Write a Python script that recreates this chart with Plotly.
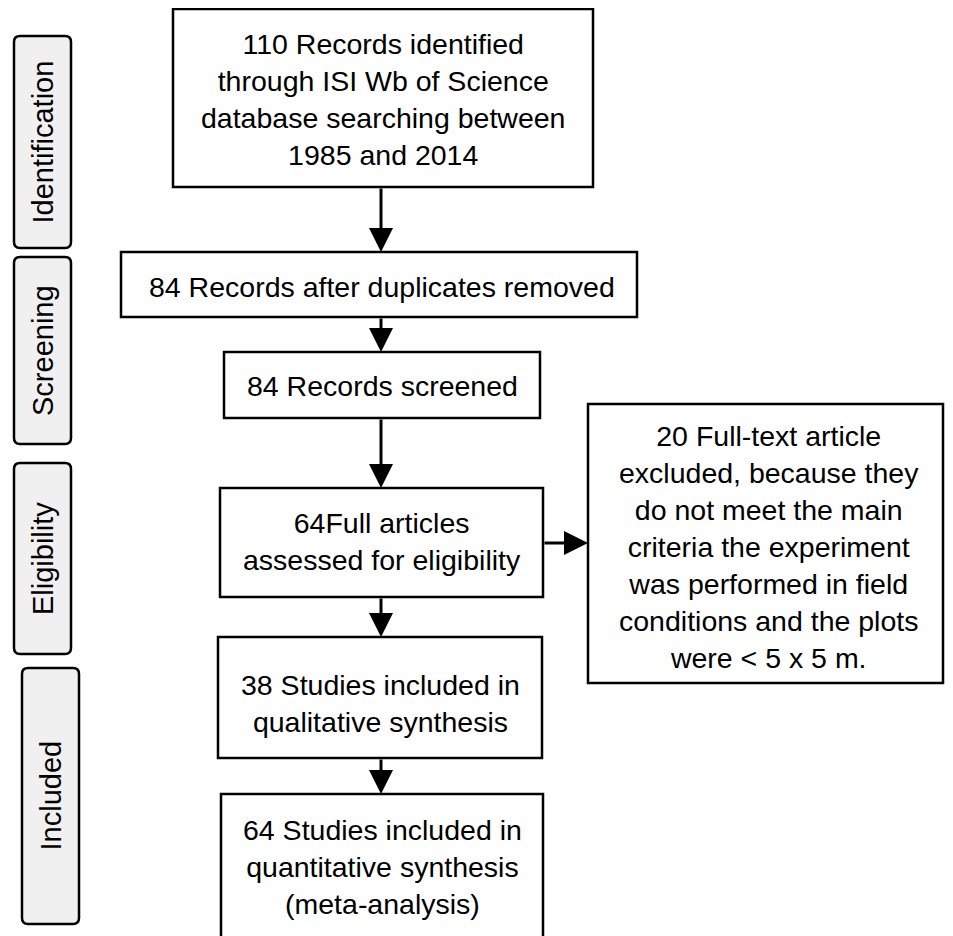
import plotly.graph_objects as go

# ---- content ----
stage_labels = ["Identification", "Screening", "Eligibility", "Included"]
box_texts = [
    "110 Records identified<br>through ISI Wb of Science<br>database searching between<br>1985 and 2014",
    "84 Records after duplicates removed",
    "84 Records screened",
    "64Full articles<br>assessed for eligibility",
    "38 Studies included in<br>qualitative synthesis",
    "64 Studies included in<br>quantitative synthesis<br>(meta-analysis)",
]
excluded_text = ("20 Full-text article<br>excluded, because they<br>do not meet the main<br>"
                 "criteria the experiment<br>was performed in field<br>conditions and the plots<br>were < 5 x 5 m.")

# ---- layout geometry (pixels, y downwards) ----
stage_boxes = [(14, 71, 36, 248), (14, 71, 257, 444), (14, 71, 463, 654), (22, 79, 668, 924)]
main_boxes = [(173, 593, 9, 187), (121, 637, 252, 317), (224, 540, 352, 418),
              (220, 543, 488, 597), (218, 542, 637, 758), (221, 543, 794, 990)]
excl_box = (588, 943, 404, 683)
text_centers = [(383, 99), (382, 287), (382, 386), (382, 541), (380, 703), (382, 867)]

FONT = "Arial, Liberation Sans, sans-serif"
OFF = 8  # page body margin compensation
fig = go.Figure()
shapes = []
annotations = []

def rounded(x0, x1, y0, y1, r=6):
    return (f"M{x0+r},{y0} L{x1-r},{y0} Q{x1},{y0} {x1},{y0+r} L{x1},{y1-r} Q{x1},{y1} {x1-r},{y1} "
            f"L{x0+r},{y1} Q{x0},{y1} {x0},{y1-r} L{x0},{y0+r} Q{x0},{y0} {x0+r},{y0} Z")

for lab, (x0, x1, y0, y1) in zip(stage_labels, stage_boxes):
    shapes.append(dict(type="path", path=rounded(x0, x1, y0, y1), xref="x", yref="y",
                       fillcolor="#f0f0f0", line=dict(color="black", width=2.5)))
    annotations.append(dict(x=(x0 + x1) / 2, y=(y0 + y1) / 2, text=lab, textangle=-90,
                            showarrow=False, xref="x", yref="y",
                            font=dict(family=FONT, size=29, color="black")))

for txt, (x0, x1, y0, y1), (cx, cy) in zip(box_texts, main_boxes, text_centers):
    shapes.append(dict(type="rect", x0=x0, x1=x1, y0=y0, y1=y1, xref="x", yref="y",
                       fillcolor="white", line=dict(color="black", width=2.5)))
    annotations.append(dict(x=cx, y=cy, text=txt, showarrow=False, xref="x", yref="y",
                            font=dict(family=FONT, size=28.5, color="black")))

x0, x1, y0, y1 = excl_box
shapes.append(dict(type="rect", x0=x0, x1=x1, y0=y0, y1=y1, xref="x", yref="y",
                   fillcolor="white", line=dict(color="black", width=2.5)))
annotations.append(dict(x=769, y=547, text=excluded_text, showarrow=False, xref="x", yref="y",
                        font=dict(family=FONT, size=28.5, color="black")))

# arrows between successive boxes
ax_x = 381
for (a, b) in zip(main_boxes[:-1], main_boxes[1:]):
    annotations.append(dict(x=ax_x, y=b[2], ax=ax_x, ay=a[3], xref="x", yref="y",
                            axref="x", ayref="y", text="", showarrow=True,
                            arrowhead=2, arrowsize=1.6, arrowwidth=3, arrowcolor="black"))
annotations.append(dict(x=excl_box[0], y=543, ax=main_boxes[3][1], ay=543, xref="x", yref="y",
                        axref="x", ayref="y", text="", showarrow=True,
                        arrowhead=2, arrowsize=1.6, arrowwidth=3, arrowcolor="black"))

fig.update_layout(
    width=953, height=936, margin=dict(l=0, r=0, t=0, b=0),
    paper_bgcolor="white", plot_bgcolor="white",
    xaxis=dict(range=[OFF, 953 + OFF], visible=False, fixedrange=True),
    yaxis=dict(range=[936 + OFF, OFF], visible=False, fixedrange=True),
    shapes=shapes, annotations=annotations, showlegend=False,
)
fig.write_html("out.html")
